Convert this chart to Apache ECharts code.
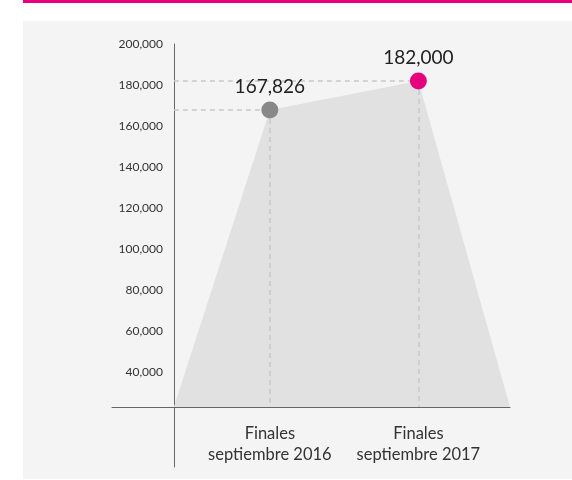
<!DOCTYPE html>
<html>
<head>
<meta charset="utf-8">
<script src="https://cdn.jsdelivr.net/npm/echarts@6/dist/echarts.min.js"></script>
<style>
html,body{margin:0;padding:0;background:#ffffff;}
#chart{width:572px;height:480px;}
</style>
</head>
<body>
<div id="chart"></div>
<script>
// ---- data ----
const categories = ['Finales\nseptiembre 2016', 'Finales\nseptiembre 2017'];
const values = [167826, 182000];
// position in months since January 2016 (end of September)
const monthPos = [7.75, 19.75];
// decorative area edges (months) and its baseline value
const areaEdges = [0, 27.15];
const baseline = 23200;
const yTicks = [40000, 60000, 80000, 100000, 120000, 140000, 160000, 180000, 200000];

// ---- build ----
const fmt = v => Number(v).toLocaleString('en-US');
const areaData = [[areaEdges[0], baseline]]
  .concat(values.map((v, i) => [monthPos[i], v]))
  .concat([[areaEdges[1], baseline]]);
const pointData = values.map((v, i) => [monthPos[i], v]);
const guideLines = [];
values.forEach((v, i) => {
  guideLines.push([{ coord: [0, v] }, { coord: [monthPos[i], v] }]);
  guideLines.push([{ coord: [monthPos[i], v] }, { coord: [monthPos[i], baseline] }]);
});

const FONT = 'Lato';
const chart = echarts.init(document.getElementById('chart'), null, { renderer: 'canvas' });
chart.setOption({
  animation: false,
  backgroundColor: '#ffffff',
  graphic: {
    elements: [
      { type: 'rect', z: -10, silent: true, shape: { x: 23, y: 21, width: 549, height: 458 }, style: { fill: '#f4f4f4' } },
      { type: 'rect', z: -10, silent: true, shape: { x: 23, y: 0, width: 549, height: 3 }, style: { fill: '#e6007e' } }
    ]
  },
  grid: { left: 112, right: 62, top: 44, bottom: 13, containLabel: false },
  xAxis: {
    type: 'value',
    min: -5,
    max: areaEdges[1],
    offset: -60,
    axisLine: { show: true, onZero: false, lineStyle: { color: '#666', width: 1 } },
    axisTick: { show: false },
    splitLine: { show: false },
    axisLabel: {
      customValues: monthPos,
      formatter: v => categories[monthPos.indexOf(v)] || '',
      color: '#333',
      fontFamily: FONT,
      fontSize: 16.5,
      lineHeight: 21,
      margin: 16
    }
  },
  yAxis: {
    type: 'value',
    min: -6000,
    max: 200000,
    offset: -62,
    axisLine: { show: true, onZero: false, lineStyle: { color: '#666', width: 1 } },
    axisTick: { show: false },
    splitLine: { show: false },
    axisLabel: {
      customValues: yTicks,
      formatter: v => fmt(v),
      color: '#333',
      fontFamily: FONT,
      fontSize: 12,
      margin: 11
    }
  },
  series: [
    {
      type: 'line',
      data: areaData,
      symbol: 'none',
      lineStyle: { width: 0 },
      areaStyle: { color: '#e1e1e1', opacity: 1, origin: baseline },
      z: 1,
      silent: true
    },
    {
      type: 'line',
      data: [],
      z: 2,
      markLine: {
        z: 2,
        silent: true,
        symbol: ['none', 'none'],
        label: { show: false },
        lineStyle: { color: '#c8c8c8', type: [5, 4], width: 1.5 },
        data: guideLines
      }
    },
    {
      type: 'scatter',
      data: pointData,
      symbolSize: 17,
      z: 10,
      itemStyle: {
        color: p => (p.dataIndex === 0 ? '#888888' : '#e6007e'),
        opacity: 1
      },
      label: {
        show: true,
        position: 'top',
        distance: 5,
        formatter: p => fmt(p.value[1]),
        color: '#222',
        fontFamily: FONT,
        fontSize: 19
      }
    }
  ]
});
</script>
</body>
</html>
